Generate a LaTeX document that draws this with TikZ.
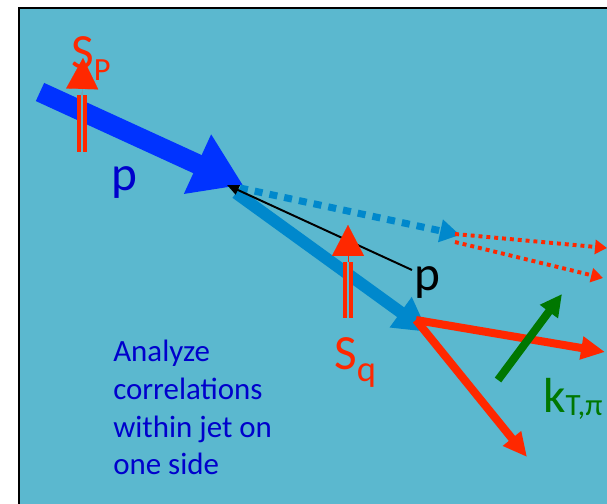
\documentclass[tikz,border=0pt]{standalone}
\usepackage{fontspec}
\setmainfont{Carlito}
\usepackage{xcolor}
\usepackage{tikz}
\usetikzlibrary{arrows.meta}

\definecolor{bgblue}{RGB}{91,184,207}
\definecolor{pblue}{RGB}{0,51,255}
\definecolor{qblue}{RGB}{0,136,204}
\definecolor{spinred}{RGB}{255,40,0}
\definecolor{kgreen}{RGB}{0,119,0}
\definecolor{txtblue}{RGB}{0,0,204}

% size, drop, text
\newcommand{\lowsub}[3]{\raisebox{-#2}{\fontsize{#1}{#1}\selectfont #3}}

\begin{document}
\begin{tikzpicture}[
  x=0.025cm, y=-0.025cm,
  lbl/.style = {inner sep=0pt, anchor=base west, font=\fontsize{35}{40}\selectfont},
  note/.style = {inner sep=0pt, anchor=base west, align=left,
    text=txtblue, font=\fontsize{22}{27}\selectfont},
  spinline/.style = {draw=spinred, line width=2.5pt, double=bgblue, double distance=2.1pt},
  spinhead/.style = {spinred, line width=0.1pt, -{Triangle[length=22pt, width=22.8pt]}},
  jetarr/.style = {line width=5.7pt, -{Triangle[length=17pt, width=15.6pt]}},
  dotarr/.style = {spinred, line width=2.8pt, dash pattern=on 2.8pt off 2.8pt,
    -{Triangle[length=8.5pt, width=10pt]}}
]
\useasboundingbox (0,0) rectangle (607,504);

% Frame
\fill[bgblue] (19,8) rectangle (630,530);
\draw[black, line width=1.8pt] (19,530) |- (630,8);

% Beam proton and quark
\coordinate (pin)   at (40,92);
\coordinate (vtx)   at (243,185);
\coordinate (qin)   at (236,193);
\coordinate (qend)  at (428,332);
\coordinate (rem)   at (460,235);
\draw[pblue, line width=14.2pt, -{Triangle[length=35.6pt, width=44pt]}] (pin) -- (vtx);
\draw[qblue, line width=8.5pt, -{Triangle[length=24pt, width=25pt]}] (qin) -- (qend);
\draw[qblue, line width=5pt, dash pattern=on 5.7pt off 5pt,
      -{Triangle[length=14.2pt, width=15.6pt]}] (240,188) -- (rem);

% Remnant (dotted)
\coordinate (rema) at (455,234);
\coordinate (remb) at (455,242);
\coordinate (ra)   at (607,248);
\coordinate (rb)   at (603,278);
\draw[dotarr] (rema) -- (ra);
\draw[dotarr] (remb) -- (rb);

% Fragmentation into hadrons
\coordinate (frag) at (416,320);
\coordinate (ha)   at (605,352);
\coordinate (hb)   at (527,457);
\draw[jetarr, spinred] (frag) -- (ha);
\draw[jetarr, spinred] (frag) -- (hb);

% Transverse momentum
\coordinate (kin)  at (498,380);
\coordinate (kout) at (562,294);
\draw[kgreen, line width=5.7pt, -{Triangle[length=15.6pt, width=15pt]}] (kin) -- (kout);

% Parton momentum pointer
\coordinate (ptr) at (412,270);
\draw[black, line width=1.4pt, -{Triangle[length=8.5pt, width=7pt]}] (ptr) -- (227,185);

% Spin vectors
\coordinate (spfoot) at (82,152);
\coordinate (spbase) at (82,95);
\coordinate (sptip)  at (83,58);
\draw[spinline] (spfoot) -- (spbase);
\draw[spinhead] (spbase) -- (sptip);

\coordinate (sqfoot) at (348,318);
\coordinate (sqbase) at (348,262);
\coordinate (sqtip)  at (348,225);
\draw[spinline] (sqfoot) -- (sqbase);
\draw[spinhead] (sqbase) -- (sqtip);

% Labels
\node[lbl, text=spinred] (splbl) at (71,69) {S\lowsub{23pt}{8pt}{P}};
\node[lbl, text=txtblue] (plbl) at (111,191) {p};
\node[lbl, text=black] (qlbl) at (414,291) {p};
\node[lbl, text=spinred] (sqlbl) at (334,370) {S\lowsub{26pt}{8pt}{q}};
\node[lbl, text=kgreen] (klbl) at (543,413) {k\lowsub{22pt}{2pt}{T,π}};
\node[note] (notelbl) at (113,475) {Analyze\\correlations\\within jet on\\one side};
\end{tikzpicture}
\end{document}
